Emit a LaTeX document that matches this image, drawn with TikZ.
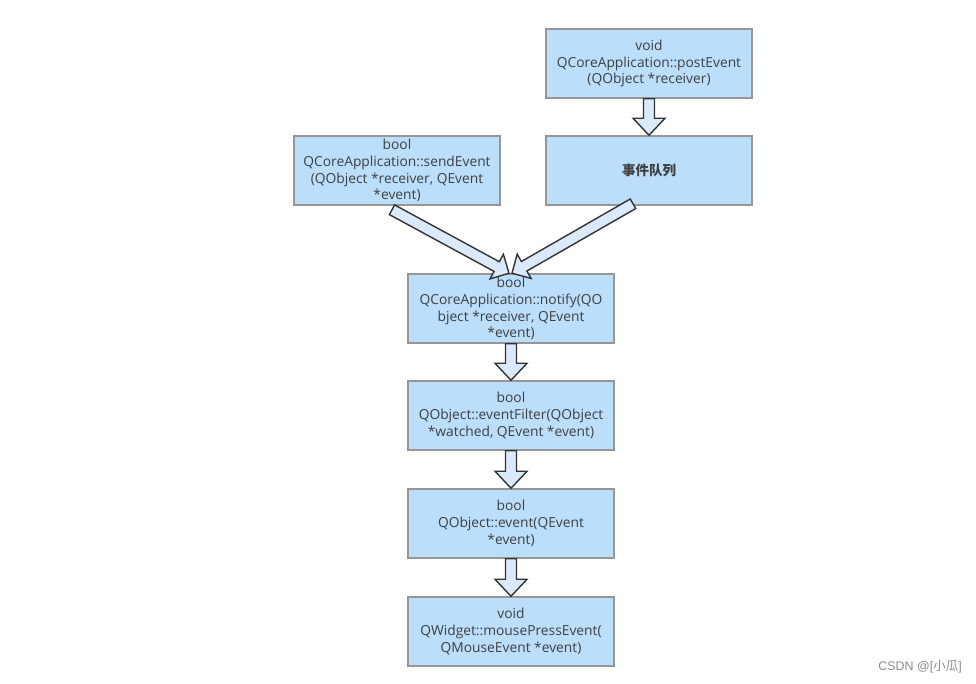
\documentclass[tikz,border=0pt]{standalone}
\usepackage{fontspec}
\setmainfont{Open Sans}
\newfontfamily\cjkfont{Noto Sans CJK SC}
\newfontfamily\wmfont{Liberation Sans}
\usetikzlibrary{calc}
\definecolor{boxfill}{RGB}{187,222,251}
\definecolor{boxline}{RGB}{150,150,150}
\definecolor{arrfill}{RGB}{218,234,250}
\definecolor{txt}{RGB}{64,64,64}
\newcommand\blockarrow[4]{%
  \coordinate (ba-s) at (#1);
  \coordinate (ba-e) at (#2);
  \coordinate (ba-h) at ($(ba-e)!#4!(ba-s)$);
  \draw[barrow]
    ($(ba-s)!5.5pt!90:(ba-e)$) --
    ($(ba-h)!5.5pt!90:(ba-e)$) --
    ($(ba-h)!#3!90:(ba-e)$) --
    (ba-e) --
    ($(ba-h)!#3!-90:(ba-e)$) --
    ($(ba-h)!5.5pt!-90:(ba-e)$) --
    ($(ba-s)!5.5pt!-90:(ba-e)$) -- cycle;
}
\begin{document}
\begin{tikzpicture}[x=1pt,y=-1pt,
  box/.style={draw=boxline,line width=1.5pt,fill=boxfill,minimum width=206pt,minimum height=69pt,
    inner sep=0pt,align=center,text=txt,font=\fontsize{13.8}{16.8}\selectfont},
  barrow/.style={draw=black!80,line width=1.4pt,fill=arrfill,line join=miter}]
\useasboundingbox (0,0) rectangle (976,684);
\fill[white] (0,0) rectangle (976,684);
\node[box] (post) at (649,63.5) {void\\QCoreApplication::postEvent\\(QObject *receiver)};
\node[box,font=\cjkfont\bfseries\fontsize{13.5}{16}\selectfont] (queue) at (649,170.5) {事件队列};
\node[box] (send) at (397,170.5) {bool\\QCoreApplication::sendEvent\\(QObject *receiver, QEvent\\*event)};
\node[box] (notify) at (511,308.5) {bool\\QCoreApplication::notify(QO\\bject *receiver, QEvent\\*event)};
\node[box] (filter) at (511,415.5) {bool\\QObject::eventFilter(QObject\\*watched, QEvent *event)};
\node[box] (event) at (511,523.5) {bool\\QObject::event(QEvent\\*event)};
\node[box] (mouse) at (511,631.5) {void\\QWidget::mousePressEvent(\\QMouseEvent *event)};
\node[text=black!45,font=\wmfont\fontsize{12.5}{14}\selectfont,anchor=east,inner sep=0pt] (wm) at (962,667)
  {CSDN @[{\cjkfont 小瓜}]};
\blockarrow{post.south}{queue.north}{16pt}{17pt}
\blockarrow{notify.south}{filter.north}{16pt}{17pt}
\blockarrow{filter.south}{event.north}{16pt}{17pt}
\blockarrow{event.south}{mouse.north}{16pt}{17pt}
\coordinate (sl) at ($(send.south)+(-5,4)$);
\coordinate (tl) at ($(notify.north)+(-2,0)$);
\coordinate (sr) at ($(queue.south)+(-16,-2)$);
\coordinate (tr) at ($(notify.north)+(1,0)$);
\blockarrow{sl}{tl}{14pt}{14pt}
\blockarrow{sr}{tr}{14pt}{14pt}
\end{tikzpicture}
\end{document}
